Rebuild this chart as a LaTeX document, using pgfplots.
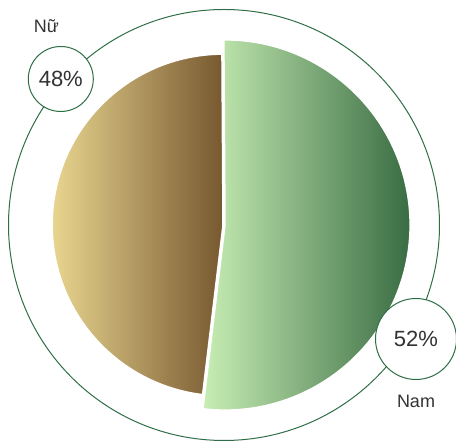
\documentclass[border=0pt]{standalone}
\usepackage{pgfplots}
\pgfplotsset{compat=1.18}
\usepackage{pgfplotstable}
\usepackage{fontspec}
\setmainfont{Liberation Sans}
\definecolor{ringgreen}{HTML}{2F6E46}
\definecolor{txt}{HTML}{333333}
\definecolor{brownL}{HTML}{E9D690}
\definecolor{brownR}{HTML}{775830}
\definecolor{greenL}{HTML}{C8EEB4}
\definecolor{greenR}{HTML}{396C43}
\pgfplotstableread{
label value
Nam 52
Nu 48
}\piedata
\begin{document}
\begin{tikzpicture}
\pgfplotstablegetelem{0}{value}\of\piedata \let\vNam\pgfplotsretval
\pgfplotstablegetelem{1}{value}\of\piedata \let\vNu\pgfplotsretval
\pgfmathsetmacro{\aStart}{90.35}
\pgfmathsetmacro{\aNamEnd}{\aStart-3.6*\vNam}
\pgfmathsetmacro{\aNuEnd}{\aStart+3.6*\vNu}
\pgfmathsetmacro{\rNam}{3.56*\vNam}
\pgfmathsetmacro{\rNu}{3.56*\vNu}
\begin{axis}[x=1pt,y=1pt,xmin=0,xmax=456,ymin=0,ymax=441,hide axis,clip=false]
\draw[ringgreen, line width=1pt] (axis cs:224,216) circle[radius=215.5pt];
\fill[draw=white, line width=1.5pt, left color=greenL, right color=greenR]
  (axis cs:225,216) -- ++(\aStart:\rNam pt) arc[start angle=\aStart, end angle=\aNamEnd, radius=\rNam pt] -- cycle;
\fill[draw=white, line width=1.5pt, left color=brownL, right color=brownR]
  (axis cs:223,216) -- ++(\aStart:\rNu pt) arc[start angle=\aStart, end angle=\aNuEnd, radius=\rNu pt] -- cycle;
\draw[ringgreen, fill=white, line width=1pt] (axis cs:60.8,362) circle[radius=32.5pt];
\node[txt, font=\fontsize{22}{24}\selectfont] at (axis cs:60.8,362) {\vNu\%};
\draw[ringgreen, fill=white, line width=1pt] (axis cs:416,102) circle[radius=40.5pt];
\node[txt, font=\fontsize{22}{24}\selectfont] at (axis cs:416,102) {\vNam\%};
\node[txt, font=\fontsize{18}{20}\selectfont] at (axis cs:46.5,415) {Nữ};
\node[txt, font=\fontsize{18}{20}\selectfont] at (axis cs:416,39.5) {Nam};
\end{axis}
\pgfresetboundingbox
\useasboundingbox (0,0) rectangle (456pt,441pt);
\end{tikzpicture}
\end{document}
